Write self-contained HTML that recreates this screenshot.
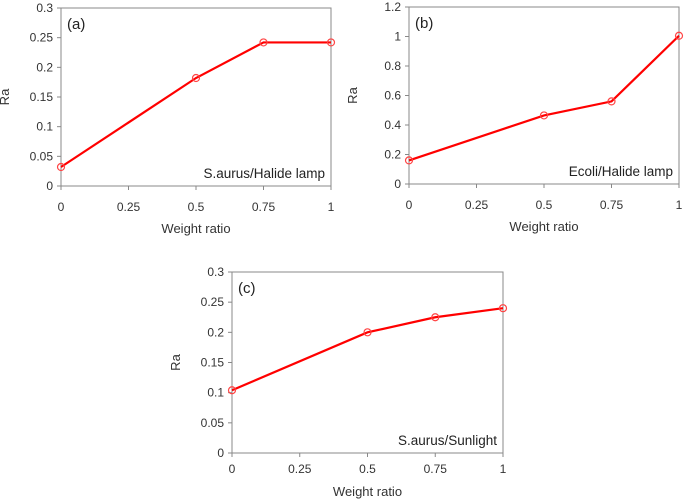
<!DOCTYPE html>
<html><head><meta charset="utf-8"><style>
body{margin:0;background:#fff;}
svg{display:block;font-family:"Liberation Sans",sans-serif;}
</style></head><body>
<svg id="c" width="685" height="499"></svg>
<script>
const xCats=[0,0.5,0.75,1];
const xTicks=[0,0.25,0.5,0.75,1];
const xTickLabels=["0","0.25","0.5","0.75","1"];
const seriesA=[0.032,0.182,0.242,0.242];
const seriesB=[0.16,0.465,0.56,1.005];
const seriesC=[0.104,0.2,0.225,0.24];
const yTicksA=[0,0.05,0.1,0.15,0.2,0.25,0.3];
const yLabelsA=["0","0.05","0.1","0.15","0.2","0.25","0.3"];
const yTicksB=[0,0.2,0.4,0.6,0.8,1,1.2];
const yLabelsB=["0","0.2","0.4","0.6","0.8","1","1.2"];
const panels=[
 {id:"a",x0:61,x1:331,y0:186,y1:8,ymax:0.3,data:seriesA,yt:yTicksA,yl:yLabelsA,tag:"(a)",note:"S.aurus/Halide lamp",tk:25,tt:47},
 {id:"b",x0:409,x1:679,y0:184,y1:7,ymax:1.2,data:seriesB,yt:yTicksB,yl:yLabelsB,tag:"(b)",note:"Ecoli/Halide lamp",tk:25,tt:47},
 {id:"c",x0:232,x1:503,y0:453,y1:272,ymax:0.3,data:seriesC,yt:yTicksA,yl:yLabelsA,tag:"(c)",note:"S.aurus/Sunlight",tk:20,tt:43}
];
const svg=document.getElementById('c');
const NS="http://www.w3.org/2000/svg";
function mk(t,a,p){const e=document.createElementNS(NS,t);for(const k in a)e.setAttribute(k,a[k]);(p||svg).appendChild(e);return e;}
panels.forEach(p=>{
 const g=mk('g',{});
 
 
 const xs=v=>p.x0+(p.x1-p.x0)*v;
 const ys=v=>p.y0-(p.y0-p.y1)*v/p.ymax;
 const fr=mk('rect',{x:p.x0,y:p.y1,width:p.x1-p.x0,height:p.y0-p.y1,fill:'none',stroke:'#888','stroke-width':1},g);
 
 
 p.yt.forEach((v,i)=>{
  mk('line',{x1:p.x0-4,x2:p.x0,y1:ys(v),y2:ys(v),stroke:'#888'},g);
  const t=mk('text',{x:p.x0-8,y:ys(v)+4,'text-anchor':'end','font-size':12,fill:'#333'},g);
  t.textContent=p.yl[i];
  
  
 });
 xTicks.forEach((v,i)=>{
  mk('line',{x1:xs(v),x2:xs(v),y1:p.y0,y2:p.y0+4,stroke:'#888'},g);
  const t=mk('text',{x:xs(v),y:p.y0+p.tk,'text-anchor':'middle','font-size':12,fill:'#333'},g);
  t.textContent=xTickLabels[i];
  
  
 });
 const xt=mk('text',{x:(p.x0+p.x1)/2,y:p.y0+p.tt,'text-anchor':'middle','font-size':13,fill:'#333'},g);
 xt.textContent="Weight ratio";
 
 
 const cy=(p.y0+p.y1)/2, cx=p.x0-52;
 const yt=mk('text',{x:cx,y:cy,'text-anchor':'middle','font-size':13,fill:'#333',transform:`rotate(-90 ${cx} ${cy})`},g);
 yt.textContent="Ra";
 
 
 const tg=mk('text',{x:p.x0+6,y:p.y1+21,'font-size':15,fill:'#222'},g);
 tg.textContent=p.tag;
 
 
 const nt=mk('text',{x:p.x1-6,y:p.y0-8,'text-anchor':'end','font-size':13.5,fill:'#222'},g);
 nt.textContent=p.note;
 
 
 const pts=p.data.map((v,i)=>xs(xCats[i])+','+ys(v)).join(' ');
 const ln=mk('polyline',{points:pts,fill:'none',stroke:'#f00','stroke-width':2.2},g);
 
 
 p.data.forEach((v,i)=>{
  const c=mk('circle',{cx:xs(xCats[i]),cy:ys(v),r:3.5,fill:'none',stroke:'#f44','stroke-width':1.2},g);
  
  
 });
});
</script>
</body></html>
